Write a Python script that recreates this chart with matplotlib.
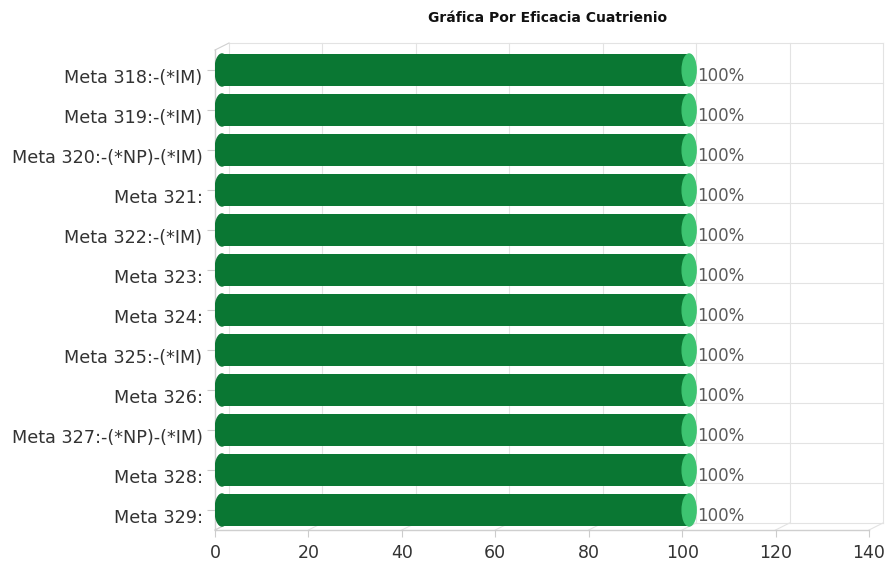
import matplotlib.pyplot as plt
from matplotlib.patches import Ellipse
from matplotlib.transforms import offset_copy, ScaledTranslation

# data
metas = ["Meta 318:-(*IM)", "Meta 319:-(*IM)", "Meta 320:-(*NP)-(*IM)", "Meta 321:",
         "Meta 322:-(*IM)", "Meta 323:", "Meta 324:", "Meta 325:-(*IM)", "Meta 326:",
         "Meta 327:-(*NP)-(*IM)", "Meta 328:", "Meta 329:"]
eficacia = [100, 100, 100, 100, 100, 100, 100, 100, 100, 100, 100, 100]
xticks = [0, 20, 40, 60, 80, 100, 120, 140]

dark_green = "#0a7733"
light_green = "#3dc471"
grid_col = "#e3e3e3"
depth_x, depth_y = 14, 7  # 3d depth in pixels

fig = plt.figure(figsize=(8.86, 5.61), dpi=100)
ax = fig.add_axes([215 / 886, 31 / 561, 654 / 886, 480 / 561])
ax.set_xlim(0, 140)
ax.set_ylim(len(metas) - 0.5, -0.5)

back = offset_copy(ax.transData, fig=fig, x=depth_x, y=depth_y, units="dots")
mid = offset_copy(ax.transData, fig=fig, x=depth_x / 2, y=0, units="dots")

# back wall grid
n = len(metas)
for x in xticks:
    ax.plot([x, x], [n - 0.5, -0.5], color=grid_col, lw=0.8, transform=back, zorder=0, clip_on=False)
for i in range(n + 1):
    ax.plot([0, 140], [i - 0.5, i - 0.5], color=grid_col, lw=0.8, transform=back, zorder=0, clip_on=False)

# floor / side wall connectors
tr_front = ax.transData
for x in xticks:
    p0 = tr_front.transform((x, n - 0.5))
    p1 = back.transform((x, n - 0.5))
    ax.plot([p0[0], p1[0]], [p0[1], p1[1]], color=grid_col, lw=0.8,
            transform=None, zorder=0, clip_on=False)
for y in (-0.5, n - 0.5):
    p0 = tr_front.transform((0, y))
    p1 = back.transform((0, y))
    ax.plot([p0[0], p1[0]], [p0[1], p1[1]], color="#d0d0d0", lw=0.8,
            transform=None, zorder=0, clip_on=False)
ax.plot([0, 140], [n - 0.5, n - 0.5], color="#cfcfcf", lw=1, clip_on=False, zorder=1)
ax.plot([0, 0], [-0.5, n - 0.5], color="#cfcfcf", lw=1, clip_on=False, zorder=1)

# cylinders
h = 0.8
cap_w = depth_x / 654 * 140
ax.barh(range(n), eficacia, height=h, color=dark_green, transform=mid, zorder=3)
for i, v in enumerate(eficacia):
    ax.add_patch(Ellipse((0, i), cap_w, h, color=dark_green, transform=mid, zorder=3))
    ax.add_patch(Ellipse((v, i), cap_w, h, color=light_green, transform=mid, zorder=4))
    ax.text(v + cap_w * 0.55, i + 0.14, f"{v}%", color="#5a5a5a", fontsize=12,
            va="center", ha="left", transform=mid, zorder=5)

for s in ax.spines.values():
    s.set_visible(False)
ax.set_yticks(range(n))
ax.set_yticklabels(metas, fontsize=12.7, color="#333333")
ax.set_xticks(xticks)
ax.set_xticklabels([str(x) for x in xticks], fontsize=12.5, color="#333333")
ax.tick_params(axis="y", length=6, color="#cccccc", pad=3)
ax.tick_params(axis="x", length=5, color="#cccccc", pad=5)

shift = ScaledTranslation(0, -6 / 100, fig.dpi_scale_trans)
for lab in ax.get_yticklabels():
    lab.set_transform(lab.get_transform() + shift)

fig.text(548 / 886, 1 - 18 / 561, "Gráfica Por Eficacia Cuatrienio", ha="center", va="center",
         fontsize=10, fontweight="bold", color="#111111")

fig.savefig("out.png", dpi=100, facecolor="white")
